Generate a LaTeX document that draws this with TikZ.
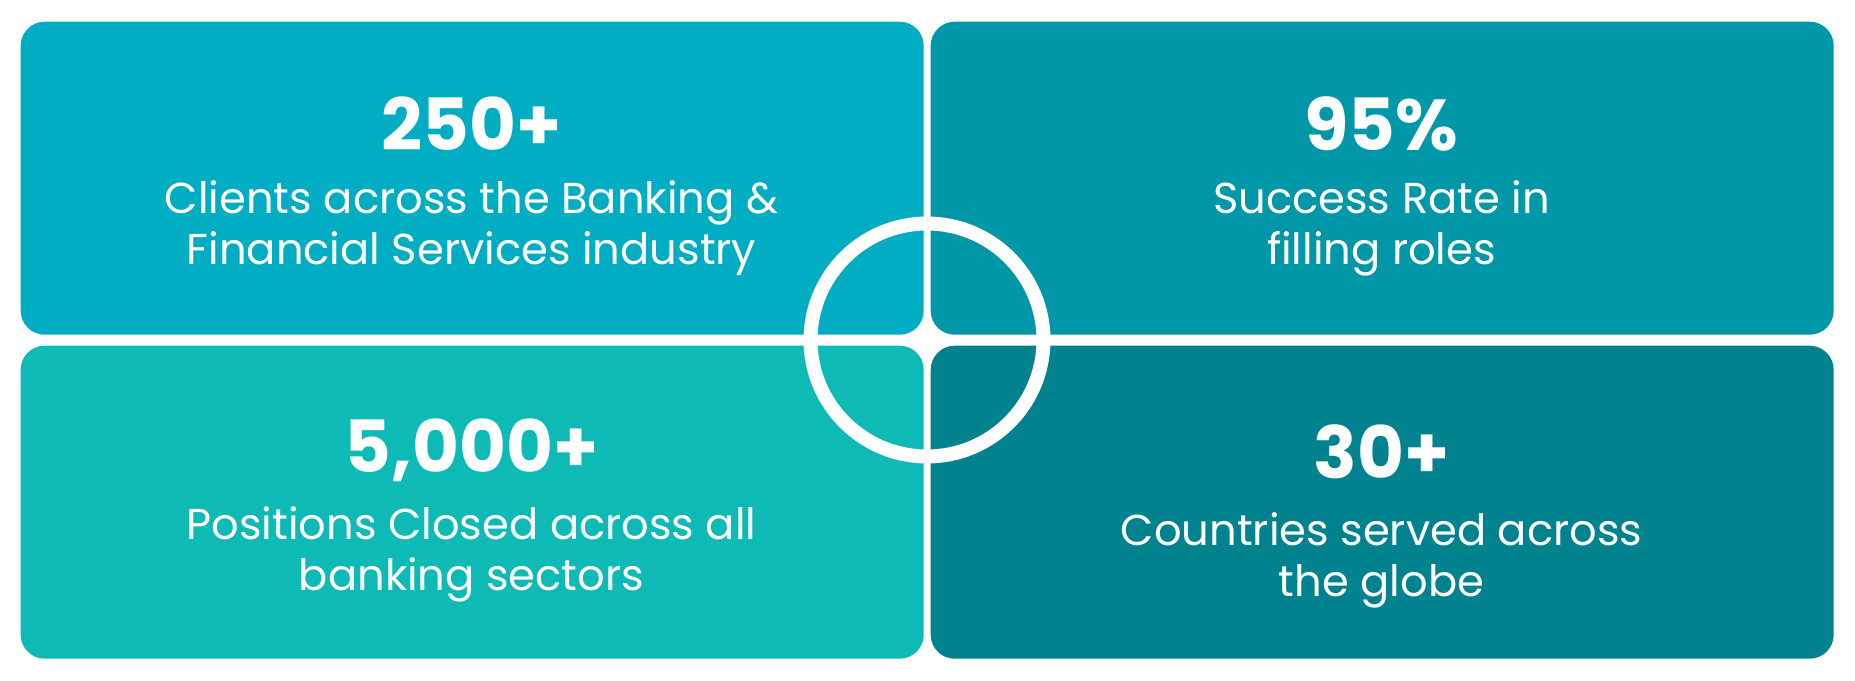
\documentclass[tikz,border=0pt]{standalone}
\usepackage{fontspec}
\setmainfont{Poppins}
\usepackage{tikz}
\usetikzlibrary{positioning}
\definecolor{tileA}{HTML}{00ADC2}
\definecolor{tileB}{HTML}{0098A8}
\definecolor{tileC}{HTML}{0DBAB5}
\definecolor{tileD}{HTML}{00838F}

\begin{document}
\begin{tikzpicture}
[tile/.style={rectangle, rounded corners=0.24cm, inner sep=0pt, minimum width=9.03cm, minimum height=3.13cm},
figure/.style={text=white, font=\fontsize{20.5}{24}\selectfont\bfseries},
caption/.style={text=white, align=center, font=\fontsize{12.3}{14.5}\selectfont}]
\useasboundingbox[fill=white] (0,0) rectangle (18.55,6.8);

\node (tl) [tile, fill=tileA, anchor=north west] at (0.20,6.59) {};
\node (tr) [tile, fill=tileB, anchor=north west] at (9.30,6.59) {};
\node (bl) [tile, fill=tileC, anchor=north west] at (0.20,3.35) {};
\node (br) [tile, fill=tileD, anchor=north west] at (9.30,3.35) {};

\node (tlnum) [figure] at (4.715,5.56) {250+};
\node (tltext) [caption] at (4.715,4.52) {Clients across the Banking \&\\Financial Services industry};
\node (trnum) [figure] at (13.815,5.56) {95\%};
\node (trtext) [caption] at (13.815,4.52) {Success Rate in\\filling roles};
\node (blnum) [figure] at (4.715,2.30) {5,000+};
\node (bltext) [caption] at (4.715,1.26) {Positions Closed across all\\banking sectors};
\node (brnum) [figure] at (13.815,2.28) {30+};
\node (brtext) [caption] at (13.815,1.20) {Countries served across\\the globe};

% ring over the four tiles
\coordinate (hub) at (9.27,3.40);
\draw[white, line width=0.14cm] (hub) circle (1.165);
\end{tikzpicture}
\end{document}
